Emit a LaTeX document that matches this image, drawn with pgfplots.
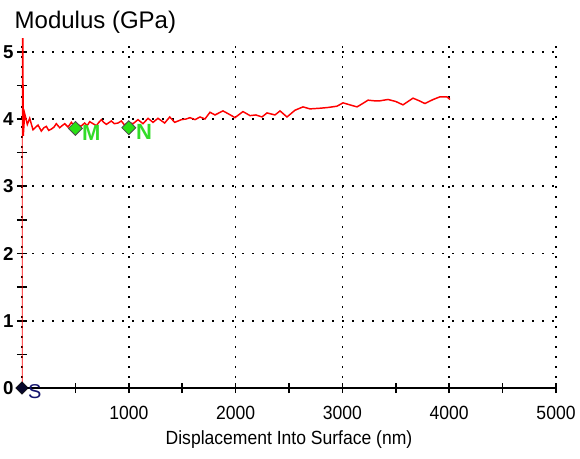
\documentclass[border=0pt]{standalone}
\usepackage{pgfplots}
\pgfplotsset{compat=1.18}
\usepackage{fontspec}
\setmainfont{Liberation Sans}
\newfontfamily\cond[FakeStretch=0.92]{Liberation Sans}
\definecolor{mkgreen}{RGB}{40,225,20}
\definecolor{txgreen}{RGB}{50,220,40}
\definecolor{navy}{RGB}{20,20,110}
\begin{document}
\begin{tikzpicture}
\useasboundingbox (-16.5pt,-52.5pt) rectangle (418.5pt,291pt);
\begin{axis}[
  scale only axis,
  width=400.5pt, height=262.3pt,
  xmin=0, xmax=5000, ymin=0, ymax=5.2,
  axis line style={draw=none},
  xtick={0,1000,2000,3000,4000,5000},
  xticklabels={,1000,2000,3000,4000,5000},
  ytick={0,1,2,3,4,5},
  yticklabels={0,1,2,3,4,5},
  minor xtick={500,1500,2500,3500,4500},
  minor ytick={0.5,1.5,2.5,3.5,4.5},
  tick align=center,
  xtick pos=left, ytick pos=left,
  major tick length=7.5pt,
  minor tick length=7.5pt,
  tick style={draw=black, line width=1.2pt},
  xmajorgrids, ymajorgrids,
  major grid style={black, line width=1.2pt, dash pattern=on 1.2pt off 6.3pt},
  xticklabel style={font=\cond\fontsize{14.3pt}{16pt}\selectfont, yshift=-6pt},
  yticklabel style={font=\bfseries\fontsize{14pt}{16pt}\selectfont, xshift=1pt},
  every axis x label/.style={at={(axis description cs:0.5,0)}, anchor=center, yshift=-39pt, font=\cond\fontsize{14.3pt}{16pt}\selectfont},
  every axis y label/.style={at={(axis description cs:0,1)}, anchor=west, xshift=-9pt, yshift=12.2pt, font=\fontsize{18pt}{20pt}\selectfont},
  xlabel={Displacement Into Surface (nm)},
  ylabel={Modulus (GPa)},
  clip mode=individual,
]
\addplot[black, line width=1.1pt, mark=none] coordinates {(0,0)(5000,0)};
% x-axis tick marks, drawn as symmetric bars about y = 0
\addplot[draw=none, mark=none, forget plot, clip=false,
  error bars/.cd, y dir=both, y explicit,
  error bar style={black, line width=1.2pt}, error mark=none]
  coordinates {(500,0) +- (0,0.055) (1000,0) +- (0,0.055) (1500,0) +- (0,0.055) (2000,0) +- (0,0.055) (2500,0) +- (0,0.055) (3000,0) +- (0,0.055) (3500,0) +- (0,0.055) (4000,0) +- (0,0.055) (4500,0) +- (0,0.055) (5000,0) +- (0,0.055)};
\addplot[red, line width=1.1pt, mark=none] coordinates {
(0,0)(0,5.6)(6,5.6)(12,3.75)(25,4.08)(50,3.92)(72,4.01)(103,3.84)(130,3.88)(150,3.91)(181,3.82)(205,3.87)(228,3.89)(250,3.83)(275,3.85)(300,3.88)(321,3.93)(353,3.87)(375,3.90)(400,3.93)(431,3.88)(462,3.95)(490,3.90)(520,3.92)(550,3.89)(587,3.94)(610,3.90)(634,3.96)(665,3.93)(696,3.90)(720,3.95)(743,3.99)(765,3.95)(790,3.92)(836,3.97)(865,3.93)(899,3.94)(930,3.97)(960,3.91)(1000,3.95)(1040,3.93)(1086,3.99)(1133,3.93)(1180,4.01)(1227,3.95)(1273,4.01)(1336,3.94)(1383,4.03)(1430,3.95)(1492,3.99)(1538,4.00)(1573,4.02)(1620,3.99)(1667,4.03)(1713,4.00)(1760,4.10)(1807,4.06)(1882,4.12)(1940,4.07)(1994,4.02)(2069,4.11)(2135,4.05)(2190,4.06)(2247,4.03)(2294,4.09)(2369,4.06)(2416,4.12)(2481,4.03)(2556,4.13)(2631,4.18)(2697,4.15)(2790,4.16)(2860,4.17)(2949,4.19)(3006,4.24)(3070,4.21)(3137,4.18)(3190,4.23)(3240,4.28)(3300,4.27)(3352,4.27)(3427,4.29)(3500,4.26)(3567,4.21)(3661,4.31)(3720,4.27)(3773,4.23)(3850,4.29)(3914,4.33)(3979,4.33)(4007,4.29)
};
\addplot[only marks, mark=square*, mark size=3.7pt, mark options={rotate=45, fill=mkgreen, draw=black!70, line width=0.6pt}] coordinates {(500,3.86)(1000,3.87)};
\addplot[only marks, mark=square*, mark size=3.3pt, mark options={rotate=45, fill=navy!40!black, draw=black}] coordinates {(0,0)};
\node[anchor=west, text=txgreen, font=\bfseries\fontsize{16.5pt}{18pt}\selectfont, inner sep=0pt] at (axis cs:560,3.80) {M};
\node[anchor=west, text=txgreen, font=\bfseries\fontsize{16.5pt}{18pt}\selectfont, inner sep=0pt] at (axis cs:1065,3.81) {N};
\node[anchor=west, text=navy, font=\fontsize{15pt}{17pt}\selectfont, inner sep=0pt] at (axis cs:55,-0.05) {S};
\end{axis}
\end{tikzpicture}
\end{document}
